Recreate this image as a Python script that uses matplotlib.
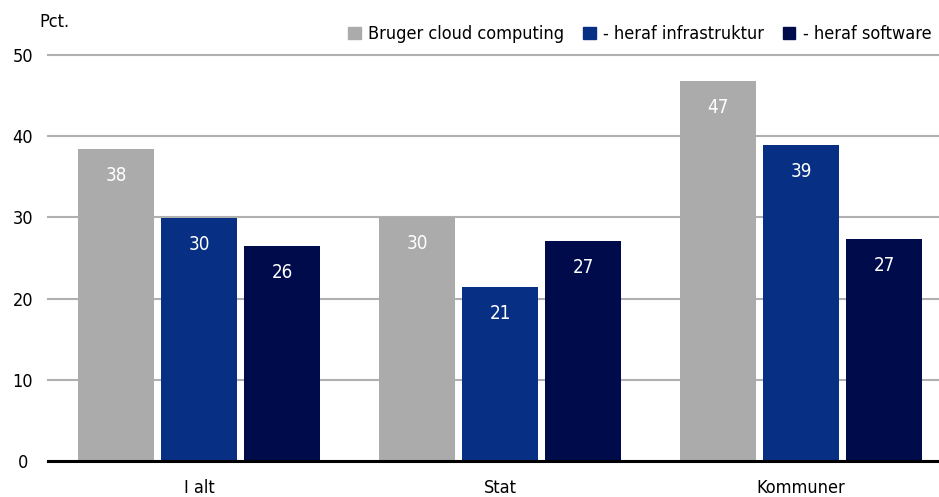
import numpy as np
import matplotlib.pyplot as plt
from matplotlib.patches import Patch

plt.rcParams['font.family'] = ['DejaVu Sans']
plt.rcParams['font.stretch'] = 'condensed'

groups = ["I alt", "Stat", "Kommuner"]
series = ["Bruger cloud computing", "- heraf infrastruktur", "- heraf software"]
cloud = [38.4, 30.0, 46.8]
infra = [29.9, 21.4, 38.9]
software = [26.5, 27.1, 27.3]
colors = ["#ababab", "#072f83", "#000b4b"]

fig = plt.figure(figsize=(9.39, 4.97), dpi=100)
ax = fig.add_axes([0.0511, 0.0724, 0.9489, 0.8169])

x = np.arange(len(groups))
step = 0.276
width = 0.252
for i, (vals, c) in enumerate(zip([cloud, infra, software], colors)):
    bars = ax.bar(x + (i - 1) * step, vals, width, color=c, zorder=3)
    for b, v in zip(bars, vals):
        ax.annotate(f"{v:.0f}", (b.get_x() + b.get_width() / 2, v),
                    xytext=(0, -19), textcoords="offset points",
                    ha="center", va="center", color="white", fontsize=13.5)

ax.set_xlim(-0.502, 2.458)
ax.set_ylim(0, 50)
ax.set_yticks(range(0, 51, 10))
ax.set_xticks(x)
ax.set_xticklabels(groups)
ax.tick_params(axis="both", length=0, labelsize=13)
ax.tick_params(axis="x", pad=13)
ax.tick_params(axis="y", pad=18)
for lab in ax.get_yticklabels():
    lab.set_horizontalalignment("center")
ax.yaxis.grid(True, color="#b0b0b0", lw=1.5, zorder=0)
for gl in ax.get_ygridlines():
    gl.set_clip_on(False)
for s in ["top", "right", "left"]:
    ax.spines[s].set_visible(False)
ax.spines["bottom"].set_linewidth(2.2)
ax.spines["bottom"].set_zorder(4)

fig.text(0.042, 0.955, "Pct.", fontsize=13, va="center", ha="left")

handles = [Patch(color=c) for c in colors]
fig.legend(handles, series, loc="center right", bbox_to_anchor=(1.009, 0.931),
           ncol=3, frameon=False, fontsize=13, handlelength=0.7, handleheight=0.7,
           handletextpad=0.4, columnspacing=1.05)

fig.savefig("out.png", dpi=100)
